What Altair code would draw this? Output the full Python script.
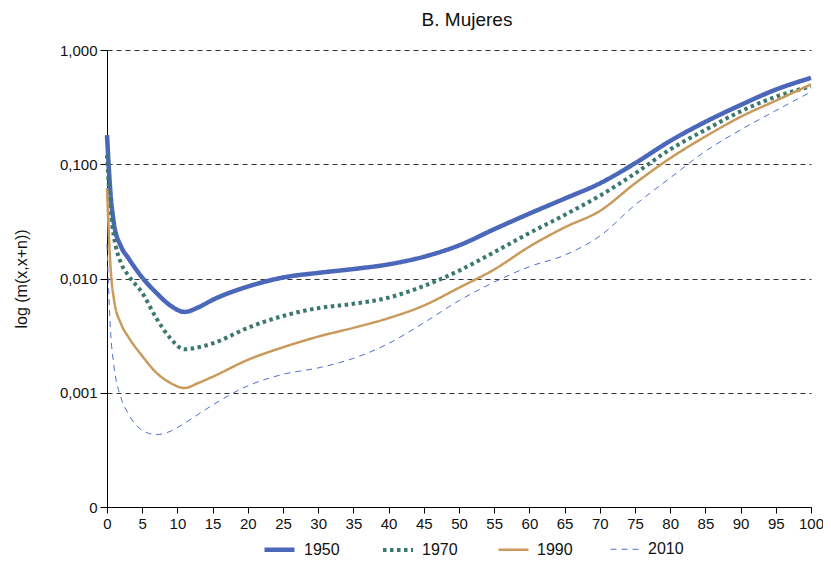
import altair as alt
import pandas as pd

# Age (x) values
ages = [0, 0.5, 1, 2, 3, 5, 7, 9, 11, 13, 15, 20, 25, 30, 35, 40, 45, 50,
        55, 60, 65, 70, 75, 80, 85, 90, 95, 100]

# m(x,x+n), per series
m_1950 = [0.18, 0.055, 0.03, 0.019, 0.0152, 0.0102, 0.0075, 0.0058, 0.0051, 0.0056,
          0.0065, 0.0085, 0.0102, 0.0112, 0.0121, 0.0133, 0.0155, 0.0195, 0.027,
          0.037, 0.050, 0.068, 0.102, 0.16, 0.235, 0.33, 0.45, 0.57]
m_1970 = [0.12, 0.04, 0.023, 0.0136, 0.0107, 0.0075, 0.0045, 0.0030, 0.0024, 0.0025,
          0.0027, 0.0037, 0.0047, 0.0055, 0.0060, 0.0068, 0.0086, 0.0117, 0.017,
          0.025, 0.036, 0.053, 0.083, 0.135, 0.20, 0.29, 0.39, 0.48]
m_1990 = [0.062, 0.0126, 0.0065, 0.004, 0.0031, 0.0021, 0.0015, 0.00122, 0.0011,
          0.00122, 0.00138, 0.00194, 0.0025, 0.0031, 0.0037, 0.0045, 0.0058, 0.0083,
          0.012, 0.019, 0.028, 0.039, 0.068, 0.113, 0.175, 0.26, 0.36, 0.50]
m_2010 = [0.02, 0.0035, 0.0017, 0.0009, 0.00066, 0.00047, 0.00043, 0.00046, 0.00054,
          0.00065, 0.00078, 0.00115, 0.00145, 0.00165, 0.002, 0.0027, 0.0041, 0.0064,
          0.0093, 0.0127, 0.016, 0.0235, 0.044, 0.076, 0.13, 0.20, 0.295, 0.43]

series = ["1950", "1970", "1990", "2010"]
colors = ["#4a67b9", "#3b7870", "#c99a5b", "#4d6fcf"]
dashes = [[1, 0], [3.5, 3.5], [1, 0], [6, 5]]
widths = [4.5, 4, 2.5, 1]

y_ticks = [0.0001, 0.001, 0.01, 0.1, 1]
x_ticks = list(range(0, 101, 5))

rows = []
for s, vals in zip(series, [m_1950, m_1970, m_1990, m_2010]):
    for a, v in zip(ages, vals):
        rows.append({"edad": a, "m": v, "serie": s})
df = pd.DataFrame(rows)

leg = alt.Legend(
    title=None, orient="none", legendX=155, legendY=482, direction="horizontal",
    symbolType="stroke", symbolSize=900, labelFontSize=16, labelOffset=7,
    columnPadding=35, labelColor="#111", labelFont="Liberation Sans",
)

chart = alt.Chart(df).mark_line(interpolate="monotone").encode(
    x=alt.X("edad:Q", scale=alt.Scale(domain=[0, 100], nice=False),
            axis=alt.Axis(values=x_ticks, title=None, grid=False, tickSize=6,
                          labelFontSize=15, labelPadding=3, domainColor="black",
                          tickColor="black", labelColor="#111", labelFlush=False)),
    y=alt.Y("m:Q", scale=alt.Scale(type="log", domain=[0.0001, 1], nice=False),
            axis=alt.Axis(values=y_ticks,
                          labelExpr="datum.value < 0.0005 ? '0' : replace(format(datum.value, '.3f'), '.', ',')",
                          title="log (m(x,x+n))", titleFontSize=16, titleFontWeight="normal",
                          titleColor="#111", titlePadding=30,
                          grid=True, gridDash=[5, 4], gridColor="#333", gridWidth=1,
                          tickSize=7, labelFontSize=15, labelPadding=3, labelColor="#111",
                          domainColor="black", tickColor="black")),
    color=alt.Color("serie:N", scale=alt.Scale(domain=series, range=colors), legend=leg),
    strokeDash=alt.StrokeDash("serie:N", scale=alt.Scale(type="ordinal", domain=series, range=dashes), legend=leg),
    strokeWidth=alt.StrokeWidth("serie:N", scale=alt.Scale(type="ordinal", domain=series, range=widths), legend=leg),
).properties(
    width=704, height=457,
    title=alt.TitleParams("B. Mujeres", fontSize=19, fontWeight="normal", color="#111",
                          offset=13, dx=8),
    autosize=alt.AutoSizeParams(type="none"),
    padding={"left": 99, "top": 42, "right": 12, "bottom": 52},
).configure(font="Liberation Sans").configure_view(stroke=None)

chart.save("out.html", embed_options={"renderer": "svg", "actions": False})
